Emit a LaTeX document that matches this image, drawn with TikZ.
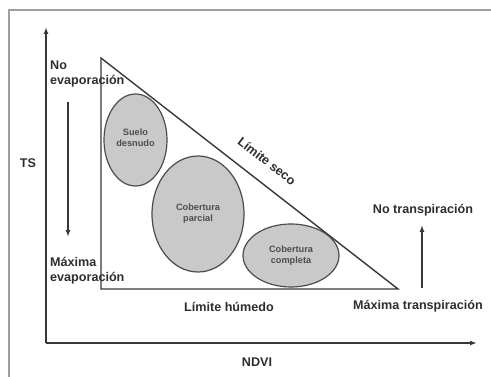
\documentclass[tikz,border=0pt]{standalone}
\usepackage{fontspec}
\setmainfont{Liberation Sans}
\usetikzlibrary{shapes.geometric,arrows.meta}
\definecolor{lin}{HTML}{383838}
\definecolor{txt}{HTML}{2E2E2E}
\definecolor{fillg}{HTML}{C9C9C9}
\begin{document}
\begin{tikzpicture}[x=1pt,y=1pt,
  lbl/.style={font=\fontsize{12.6}{14.5}\selectfont\bfseries, text=txt, inner sep=0pt},
  small/.style={font=\fontsize{9.2}{11}\selectfont\bfseries, text=txt!85, align=center},
  blob/.style={ellipse, draw=lin!90, fill=fillg, line width=1.2pt, inner sep=0pt},
  ln/.style={draw=lin, line width=1.4pt},
  arr/.style={ln, -{Latex[length=7pt,width=5pt]}}]
\useasboundingbox (0,0) rectangle (491,-377);
\fill[white] (0,0) rectangle (491,-377);
% frame
\draw[gray!75, line width=2pt] (9,-377) -- (9,-10) -- (491,-10);
% axes
\coordinate (o) at (46,-343);
\coordinate (ytop) at (46,-27);
\coordinate (xend) at (477,-343);
\draw[arr] (o) -- (ytop);
\draw[arr] (o) -- (xend);
% triangle
\coordinate (t1) at (101,-58);
\coordinate (t2) at (101,-289);
\coordinate (t3) at (398,-289);
\draw[ln, line join=miter] (t1) -- (t2) -- (t3) -- cycle;
% ellipses
\node[blob, minimum width=63pt, minimum height=92pt] (suelo) at (135.5,-140) {};
\node[small] at ([yshift=2pt]suelo) {Suelo\\desnudo};
\node[blob, minimum width=92pt, minimum height=116pt] (parcial) at (198,-214) {};
\node[small] at (parcial) {Cobertura\\parcial};
\node[blob, minimum width=96pt, minimum height=63pt] (completa) at (291,-255.5) {};
\node[small] at (completa) {Cobertura\\completa};
% labels
\node[lbl, anchor=west, align=left] (noevap) at (50,-74) {No\\evaporación};
\node[lbl, anchor=west, align=left] (maxevap) at (50,-270.5) {Máxima\\evaporación};
\coordinate (d1) at (68,-102);
\coordinate (d2) at (68,-237);
\draw[arr] (d1) -- (d2);
\node[lbl] (ts) at (28,-163) {TS};
\node[lbl] (ndvi) at (257,-362) {NDVI};
\node[lbl] (humedo) at (229,-307) {Límite húmedo};
\node[lbl] (maxtr) at (418,-306) {Máxima transpiración};
\node[lbl] (notr) at (423,-210) {No transpiración};
\coordinate (u1) at (422,-288);
\coordinate (u2) at (422,-225);
\draw[arr] (u1) -- (u2);
\node[lbl, rotate=-37.9] (seco) at (267,-161) {Límite seco};
\end{tikzpicture}
\end{document}
